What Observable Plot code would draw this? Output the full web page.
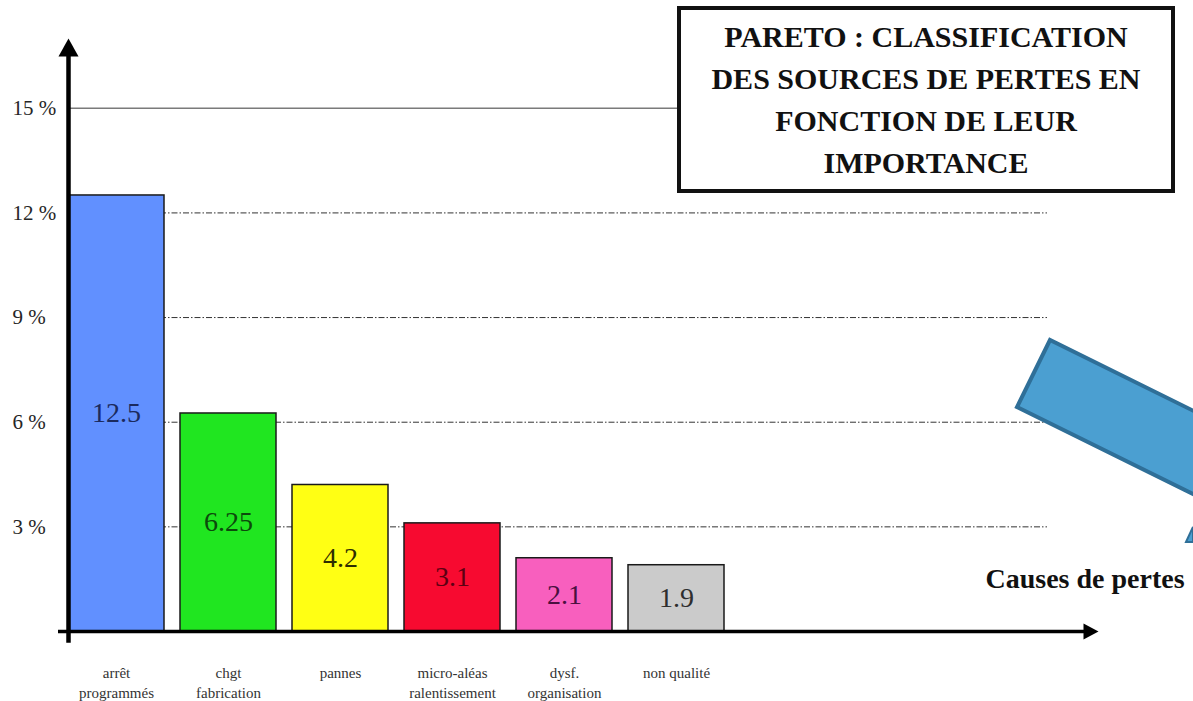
<!DOCTYPE html>
<html>
<head>
<meta charset="utf-8">
<script src="https://cdn.jsdelivr.net/npm/d3@7"></script>
<script src="https://cdn.jsdelivr.net/npm/@observablehq/plot@0.6"></script>
<style>
  html, body { margin: 0; padding: 0; background: #fff; overflow: hidden; }
  #wrap { position: relative; width: 1193px; height: 701px; overflow: hidden; background: #fff; }
  #title {
    position: absolute; left: 677px; top: 6px; width: 498px; height: 187px;
    box-sizing: border-box; border: 4px solid #111; background: #fff;
    font-family: "Liberation Serif", "Times New Roman", serif; font-weight: bold;
    font-size: 30px; line-height: 42px; text-align: center; color: #111;
    padding-top: 6px;
  }
  #deco { position: absolute; left: 0; top: 0; pointer-events: none; }
</style>
</head>
<body>
<div id="wrap">
  <div id="chart"></div>
  <div id="title">PARETO : CLASSIFICATION<br>DES SOURCES DE PERTES EN<br>FONCTION DE LEUR<br>IMPORTANCE</div>
  <svg id="deco" width="1193" height="701" viewBox="0 0 1193 701">
    <polygon points="1050,340 1017,407 1260,527 1293,460" fill="#4b9fd1" stroke="#2f6f98" stroke-width="4" stroke-linejoin="miter"/>
    <polygon points="1186,542 1193,527 1193,542" fill="#4b9fd1" stroke="#2f6f98" stroke-width="2"/>
  </svg>
</div>
<script>
// ---- data ----
const categories = ["arrêt programmés", "chgt fabrication", "pannes", "micro-aléas ralentissement", "dysf. organisation", "non qualité"];
const tickLabels = ["arrêt\nprogrammés", "chgt\nfabrication", "pannes", "micro-aléas\nralentissement", "dysf.\norganisation", "non qualité"];
const values = [12.5, 6.25, 4.2, 3.1, 2.1, 1.9];
const valueLabels = ["12.5", "6.25", "4.2", "3.1", "2.1", "1.9"];
const yTicks = [3, 6, 9, 12, 15];
const xAxisTitle = "Causes de pertes";

// ---- styles ----
const barColors = ["#6190ff", "#20e620", "#ffff14", "#f70a30", "#f85fbe", "#cbcbcb"];
const labelColors = ["#1b2a5e", "#0c4a0c", "#2e2e00", "#5c0012", "#4a1040", "#2e2e2e"];

const table = categories.map((c, i) => ({
  cat: c, value: values[i], label: valueLabels[i], fill: barColors[i], tcolor: labelColors[i]
}));
const tickMap = new Map(categories.map((c, i) => [c, tickLabels[i]]));

const arrowUp = { draw(ctx) { ctx.moveTo(0, 0); ctx.lineTo(-10, 18); ctx.lineTo(10, 18); ctx.closePath(); } };
const arrowSmall = { draw(ctx) { ctx.moveTo(0, 0); ctx.lineTo(-8, 15); ctx.lineTo(8, 15); ctx.closePath(); } };

const serif = "Liberation Serif, Times New Roman, serif";

const chart = Plot.plot({
  width: 1193,
  height: 701,
  marginTop: 38,
  marginBottom: 70,
  marginLeft: 68,
  marginRight: 146,
  style: { fontFamily: serif, background: "#fff", overflow: "visible" },
  x: { type: "band", domain: categories, range: [68, 724], paddingInner: 0.143, paddingOuter: 0, label: null },
  y: { domain: [0, 17], label: null },
  color: { type: "identity" },
  marks: [
    // grid lines
    Plot.ruleY([yTicks[yTicks.length - 1]], { stroke: "#7a7a7a", strokeWidth: 1.6 }),
    Plot.ruleY(yTicks.slice(0, -1), { stroke: "#333", strokeWidth: 1, strokeDasharray: "6,2,1.5,2" }),
    // bars
    Plot.barY(table, { x: "cat", y: "value", fill: "fill", stroke: "#1a1a1a", strokeWidth: 1.5 }),
    // value labels
    Plot.text(table, { x: "cat", y: d => d.value / 2, text: "label", fill: "tcolor", fontSize: 28, fontFamily: serif }),
    // axes
    Plot.axisY({ ticks: yTicks, tickFormat: d => d + " %", tickSize: 0, tickPadding: 0, textAnchor: "start", dx: -56, fontSize: 21, fill: "#262626", fontFamily: serif }),
    Plot.axisX({ tickSize: 0, tickPadding: 32, tickFormat: d => tickMap.get(d), fontSize: 15, lineHeight: 1.33, fill: "#333", fontFamily: serif }),
    Plot.frame({ anchor: "left", stroke: "#000", strokeWidth: 4.5, insetBottom: -9, insetTop: 12 }),
    Plot.dot([0], { frameAnchor: "top-left", symbol: arrowUp, fill: "#000", stroke: null }),
    Plot.ruleY([0], { stroke: "#000", strokeWidth: 3.5, insetLeft: -10, insetRight: -40 }),
    Plot.dot([0], { y: d => d, frameAnchor: "right", dx: 51, symbol: arrowSmall, rotate: 90, fill: "#000", stroke: null }),
    // axis title
    Plot.text([xAxisTitle], { frameAnchor: "bottom-right", dx: -62, dy: -44, textAnchor: "start", fontSize: 28, fontWeight: "bold", fill: "#111", fontFamily: serif })
  ]
});
document.getElementById("chart").appendChild(chart);
</script>
</body>
</html>
